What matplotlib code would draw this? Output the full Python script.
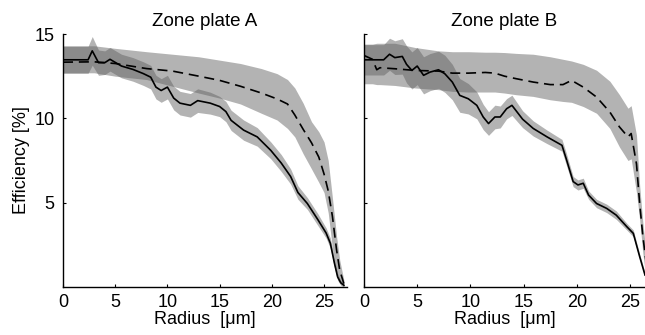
import matplotlib
matplotlib.use('Agg')
import matplotlib.pyplot as plt

plt.rcParams['font.family'] = ['Liberation Sans', 'DejaVu Sans']

# Zone plate A - solid curve (mean and half width of shaded band)
a_solid_r = [0, 2.4, 2.8, 3.4, 4.0, 4.5, 5.6, 6.7, 7.7, 8.4, 8.9, 9.4, 10.0, 10.6, 11.2, 12.2,
             12.9, 14.1, 15.0, 15.6, 16.1, 17.3, 18.6, 19.9, 20.9, 21.8, 22.5, 23.4, 24.4, 25.2,
             25.6, 26.0, 26.3, 26.6, 26.9]
a_solid_v = [13.47, 13.47, 14.0, 13.3, 13.3, 13.5, 13.1, 12.9, 12.65, 12.44, 11.85, 11.65, 11.85,
             11.2, 10.9, 10.77, 11.05, 10.9, 10.7, 10.4, 9.88, 9.3, 8.9, 8.1, 7.35, 6.55, 5.6, 4.95,
             4.0, 3.2, 2.6, 1.4, 0.6, 0.25, 0.1]
a_solid_err = [0.8, 0.8, 0.85, 0.75, 0.7, 0.7, 0.7, 0.7, 0.7, 0.7, 0.7, 0.7, 0.7, 0.7, 0.7, 0.7,
               0.7, 0.65, 0.6, 0.6, 0.6, 0.6, 0.55, 0.5, 0.5, 0.45, 0.4, 0.35, 0.35, 0.3, 0.3,
               0.25, 0.2, 0.15, 0.1]

# Zone plate A - dashed curve with lower / upper band edges
a_dash_r = [0, 3.0, 5.0, 8.0, 10.5, 13.0, 15.0, 17.0, 19.0, 20.5, 21.5, 22.2, 23.0, 23.8, 24.5,
            25.0, 25.4, 25.8, 26.2, 26.5, 26.9]
a_dash_v = [13.33, 13.35, 13.25, 12.95, 12.8, 12.5, 12.25, 11.9, 11.5, 11.15, 10.85, 10.2, 9.35,
            8.55, 7.7, 6.7, 5.7, 4.2, 2.2, 1.0, 0.2]
a_dash_lo = [12.7, 12.7, 12.5, 12.3, 11.9, 11.5, 11.2, 10.85, 10.3, 9.9, 9.4, 8.9, 7.9, 7.0, 6.2,
             5.6, 4.4, 2.3, 0.9, 0.4, 0.05]
a_dash_hi = [14.3, 14.3, 14.15, 13.95, 13.8, 13.65, 13.45, 13.25, 12.95, 12.65, 12.3, 11.8, 10.9,
             9.8, 9.2, 8.6, 7.5, 5.3, 3.0, 1.6, 0.4]

# Zone plate B - solid curve
b_solid_r = [0, 1.85, 2.4, 2.9, 3.6, 4.0, 4.5, 5.0, 5.6, 6.2, 7.0, 7.6, 8.3, 9.0, 9.8, 10.6, 11.2,
             11.7, 12.3, 12.8, 13.4, 13.9, 14.9, 15.9, 17.2, 18.6, 19.0, 19.65, 20.1, 20.6, 21.1,
             21.85, 22.8, 23.7, 24.7, 25.3, 25.9, 26.4]
b_solid_v = [13.47, 13.47, 13.8, 13.6, 13.67, 13.2, 12.84, 13.1, 12.55, 12.74, 12.88, 12.64, 12.15,
             11.36, 11.16, 10.77, 10.08, 9.69, 10.08, 10.08, 10.57, 10.77, 9.95, 9.4, 8.9, 8.4,
             7.6, 6.25, 6.05, 6.15, 5.45, 4.95, 4.66, 4.26, 3.57, 3.18, 1.8, 0.71]
b_solid_err = [0.9, 0.9, 0.95, 1.0, 1.05, 1.1, 1.1, 1.1, 1.1, 1.1, 1.1, 1.1, 1.05, 1.0, 0.9, 0.8,
               0.75, 0.7, 0.7, 0.65, 0.6, 0.6, 0.5, 0.45, 0.4, 0.35, 0.35, 0.3, 0.3, 0.3, 0.25,
               0.25, 0.25, 0.25, 0.2, 0.2, 0.15, 0.15]

# Zone plate B - dashed curve
b_dash_r = [0, 0.8, 1.2, 1.5, 2.9, 4.8, 7.0, 8.3, 9.8, 11.4, 12.3, 13.2, 14.3, 15.9, 17.5, 18.7,
            19.5, 20.6, 21.85, 23.1, 24.0, 24.8, 25.1, 25.6, 25.9, 26.2, 26.5]
b_dash_v = [13.73, 13.5, 12.88, 13.0, 12.94, 12.84, 12.8, 12.68, 12.68, 12.72, 12.68, 12.5, 12.35,
            12.15, 12.0, 12.0, 12.25, 11.85, 11.26, 10.37, 9.49, 8.9, 9.1, 7.3, 4.95, 3.0, 1.5]
b_dash_lo = [12.05, 12.05, 12.0, 12.0, 11.95, 11.8, 11.7, 11.6, 11.56, 11.56, 11.56, 11.5, 11.4,
             11.3, 11.1, 11.0, 10.95, 10.7, 10.3, 9.4, 8.3, 7.5, 7.6, 5.6, 4.0, 2.0, 0.5]
b_dash_hi = [14.4, 14.4, 14.45, 14.45, 14.45, 14.2, 14.0, 13.95, 13.95, 13.92, 13.92, 13.9, 13.85,
             13.8, 13.65, 13.5, 13.4, 13.2, 12.85, 12.2, 11.4, 10.6, 10.75, 9.0, 6.0, 3.8, 2.0]

panels = [
    ('Zone plate A', 27.2, a_solid_r, a_solid_v, a_solid_err, a_dash_r, a_dash_v, a_dash_lo, a_dash_hi),
    ('Zone plate B', 26.4, b_solid_r, b_solid_v, b_solid_err, b_dash_r, b_dash_v, b_dash_lo, b_dash_hi),
]

band_color = (94 / 255, 94 / 255, 94 / 255)
band_alpha = 0.47

fig = plt.figure(figsize=(6.45, 3.35), dpi=100)
ax_a = fig.add_axes([0.0977, 0.1433, 0.4403, 0.7552])
ax_b = fig.add_axes([0.5643, 0.1433, 0.4357, 0.7552])

for ax, (title, xmax, sr, sv, se, dr, dv, dlo, dhi) in zip([ax_a, ax_b], panels):
    s_lo = [v - e for v, e in zip(sv, se)]
    s_hi = [v + e for v, e in zip(sv, se)]
    ax.fill_between(dr, dlo, dhi, color=band_color, alpha=band_alpha, linewidth=0)
    ax.fill_between(sr, s_lo, s_hi, color=band_color, alpha=band_alpha, linewidth=0)
    ax.plot(dr, dv, color='black', linewidth=1.2, linestyle=(0, (6, 3.5)))
    ax.plot(sr, sv, color='black', linewidth=1.2)

    ax.set_xlim(0, xmax)
    ax.set_ylim(0, 15)
    ax.set_xticks([0, 5, 10, 15, 20, 25])
    ax.set_yticks([5, 10, 15])
    ax.spines['top'].set_visible(False)
    ax.spines['right'].set_visible(False)
    for side in ['left', 'bottom']:
        ax.spines[side].set_linewidth(1.0)
    ax.tick_params(direction='in', length=2.5, width=0.8, labelsize=13)
    ax.tick_params(axis='x', pad=5)
    ax.tick_params(axis='y', pad=6)
    ax.set_title(title, fontsize=13.5, pad=6)
    ax.set_xlabel('Radius  [\u03bcm]', fontsize=13, labelpad=0)

ax_a.set_ylabel('Efficiency [%]', fontsize=13, labelpad=3)
ax_b.set_yticklabels([])

fig.savefig('out.png', dpi=100)
